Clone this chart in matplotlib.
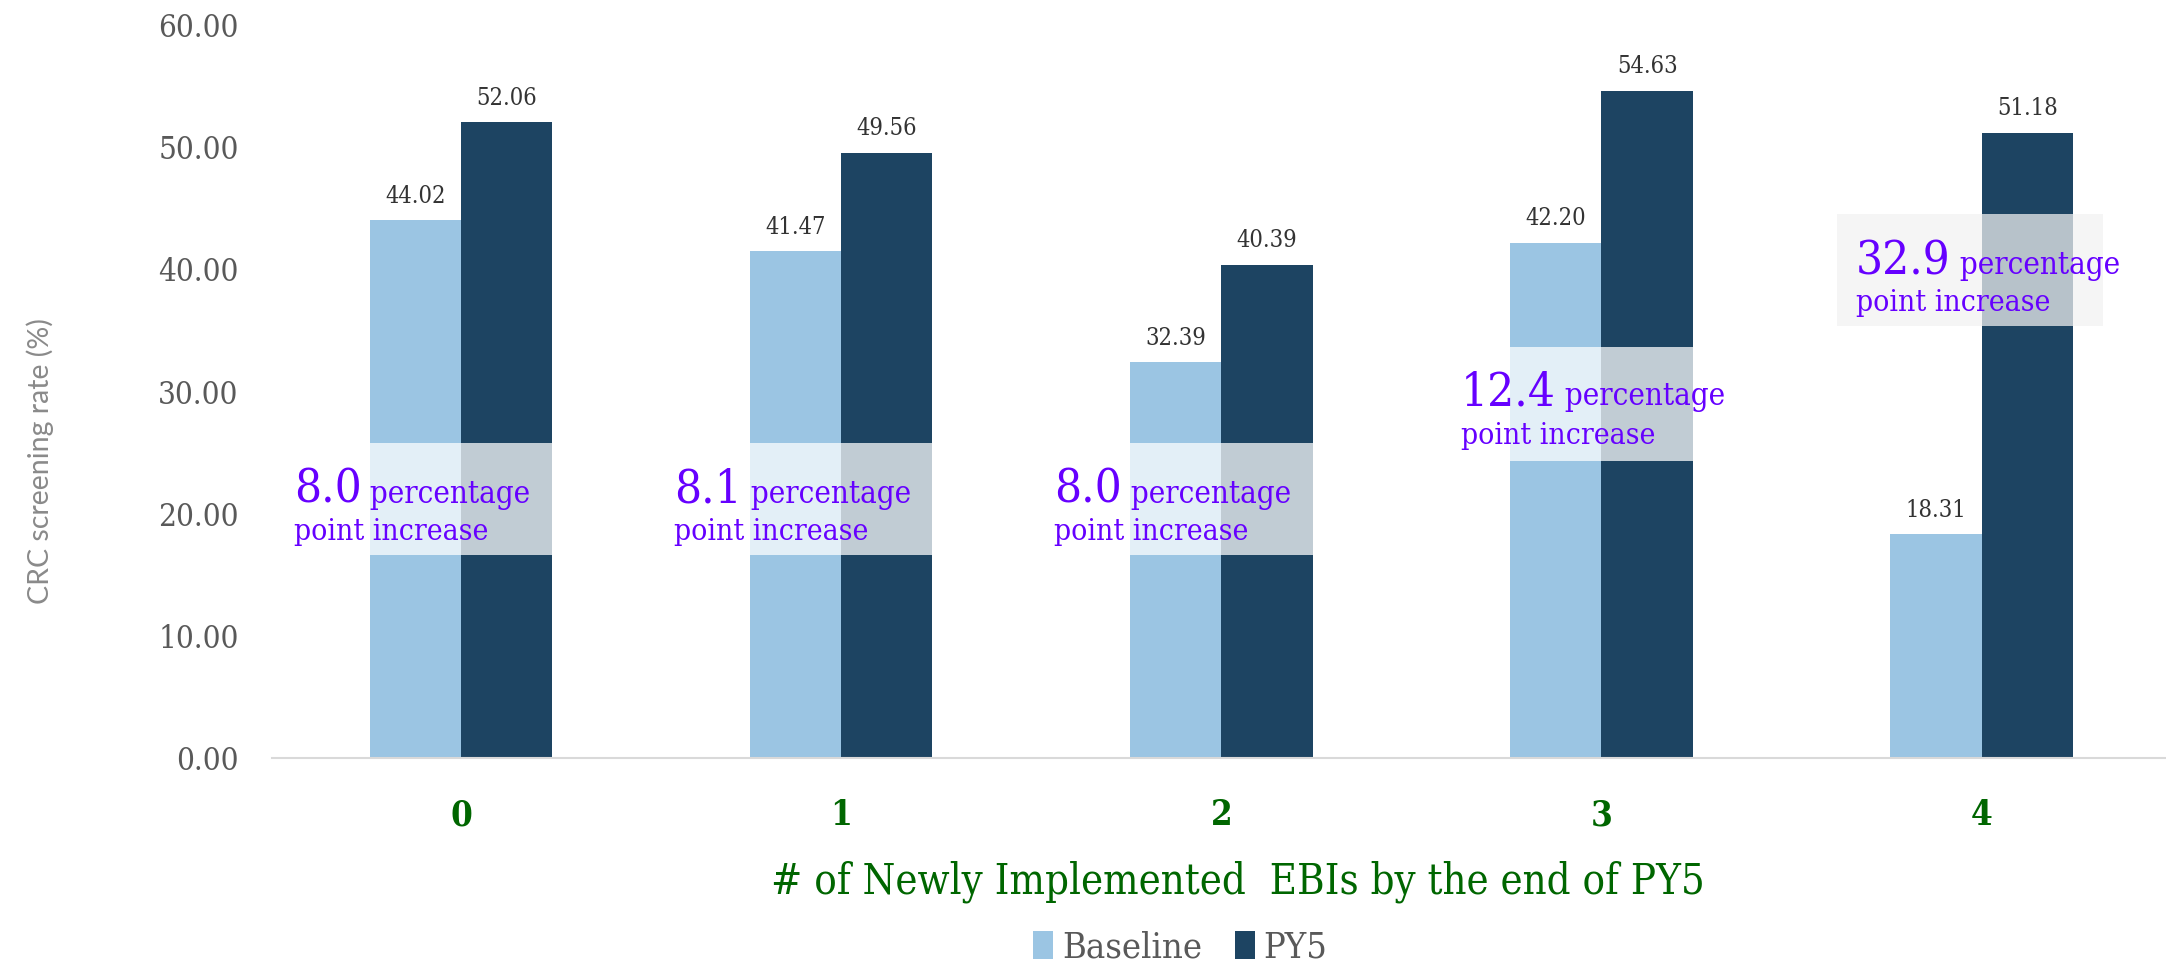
import matplotlib
matplotlib.use("Agg")
import matplotlib.pyplot as plt
import numpy as np

# ---- data ----
categories = ["0", "1", "2", "3", "4"]
baseline = [44.02, 41.47, 32.39, 42.20, 18.31]
py5 = [52.06, 49.56, 40.39, 54.63, 51.18]
increase_labels = ["8.0", "8.1", "8.0", "12.4", "32.9"]
series_names = ["Baseline", "PY5"]
yticks = [0, 10, 20, 30, 40, 50, 60]

# ---- style ----
C_BASE = "#9bc5e3"
C_PY5 = "#1d4462"
PURPLE = "#6600ff"
GREEN = "#006600"
SERIF = "DejaVu Serif"
COND = dict(family=SERIF, stretch="condensed")

fig = plt.figure(figsize=(21.66, 9.66), dpi=100)
ax = fig.add_axes([0.1256, 0.2153, 0.8744, 0.7587])

x = np.arange(len(categories))
w = 0.24
b1 = ax.bar(x - w / 2, baseline, w, color=C_BASE, label=series_names[0], zorder=2)
b2 = ax.bar(x + w / 2, py5, w, color=C_PY5, label=series_names[1], zorder=2)

for bars in (b1, b2):
    for r in bars:
        h = r.get_height()
        ax.annotate(f"{h:.2f}", (r.get_x() + r.get_width() / 2, h),
                    xytext=(0, 9), textcoords="offset points",
                    ha="center", va="bottom", fontsize=17,
                    color="#333333", zorder=5, **COND)

ax.set_xlim(-0.497, 4.485)
ax.set_ylim(0, 60)
ax.set_yticks(yticks)
ax.set_yticklabels([f"{v:.2f}" for v in yticks], fontsize=22.5,
                   color="#595959", **COND)
ax.set_xticks(x)
ax.set_xticklabels(categories, fontsize=25, fontweight="bold", color=GREEN,
                   **COND)
ax.tick_params(axis="both", length=0)
ax.tick_params(axis="y", pad=24)
ax.tick_params(axis="x", pad=29)
for s in ("top", "right", "left"):
    ax.spines[s].set_visible(False)
ax.spines["bottom"].set_color("#d9d9d9")
ax.spines["bottom"].set_linewidth(1.5)

ax.set_ylabel("CRC screening rate (%)", family="Lato", fontsize=20.5,
              color="#8a8a8a")
ax.yaxis.set_label_coords(-0.115, 0.405)
ax.set_xlabel("# of Newly Implemented  EBIs by the end of PY5", fontsize=30,
              color=GREEN, **COND)
ax.xaxis.set_label_coords(0.51, -0.14)

# ---- annotation bands and texts ----
# (band bottom, band top, band x0, band x1, band colour, text x offset, line1 y, line2 y)
ann = [
    (16.6, 25.75, -w, w, "white", -0.44, 20.9, 17.85),
    (16.6, 25.75, -w, w, "white", -0.44, 20.9, 17.85),
    (16.6, 25.75, -w, w, "white", -0.44, 20.9, 17.85),
    (24.3, 33.65, -w, w, "white", -0.37, 28.9, 25.7),
    (35.4, 44.5, -0.38, 0.32, "#f2f2f2", -0.33, 39.6, 36.6),
]
for i, (y0, y1, bx0, bx1, bc, tx, l1, l2) in enumerate(ann):
    ax.fill_between([i + bx0, i + bx1], y0, y1, color=bc, alpha=0.73,
                    linewidth=0, zorder=3)
    t = ax.text(i + tx, l1, increase_labels[i], fontsize=34,
                color=PURPLE, va="baseline", ha="left", zorder=6, **COND)
    ax.annotate(" percentage", xy=(1, l1), xycoords=(t, "data"),
                fontsize=22.5, color=PURPLE, va="baseline",
                ha="left", zorder=6, **COND)
    ax.text(i + tx, l2, "point increase", fontsize=21.5,
            color=PURPLE, va="baseline", ha="left", zorder=6, **COND)

leg = fig.legend(handles=[b1, b2], labels=series_names, loc="center",
                 bbox_to_anchor=(0.545, 0.019), ncol=2, frameon=False,
                 prop=dict(size=26, **COND), handlelength=0.55,
                 handleheight=0.8, handletextpad=0.25, columnspacing=0.9)
for txt in leg.get_texts():
    txt.set_color("#595959")

fig.savefig("out.png", dpi=100)
